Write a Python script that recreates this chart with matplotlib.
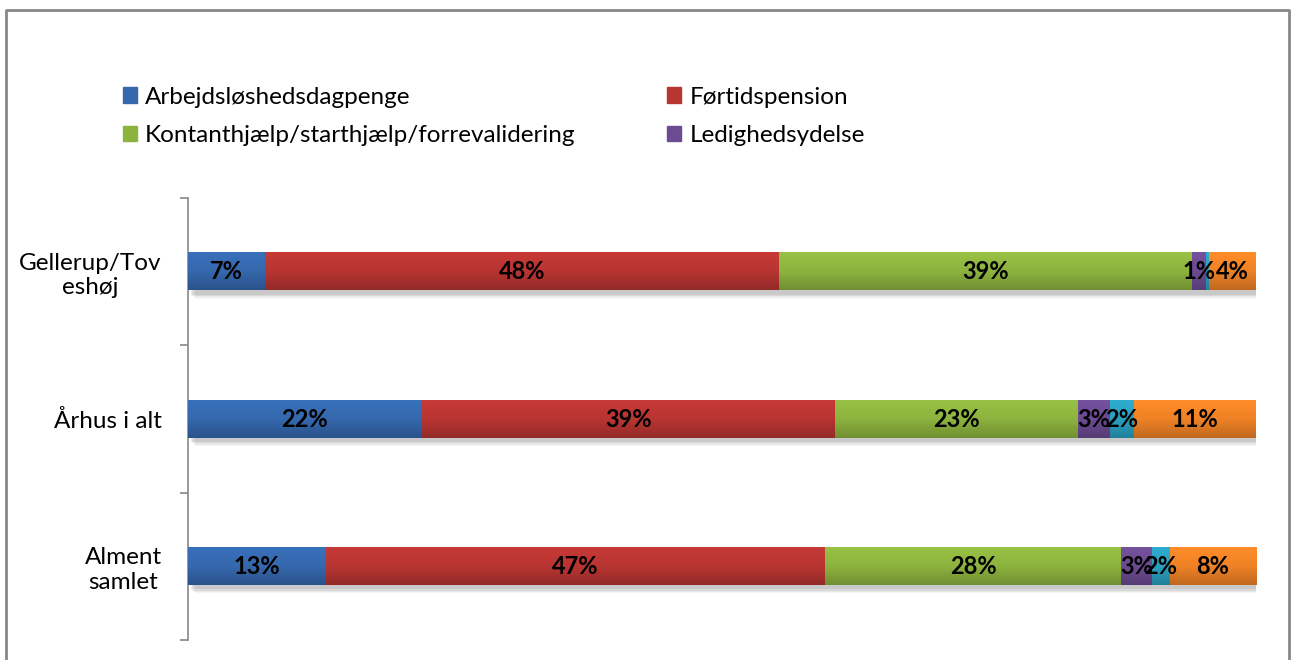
import numpy as np
import matplotlib.pyplot as plt
import matplotlib.patheffects as pe
from matplotlib.colors import LinearSegmentedColormap, to_rgb
from matplotlib.patches import Rectangle

plt.rcParams['font.family'] = ['Lato', 'DejaVu Sans']

# Fordeling af ydelser (procent af modtagere)
categories = ["Gellerup/Tov\neshøj", "Århus i alt", "Alment\nsamlet"]
series_names = [
    "Arbejdsløshedsdagpenge",
    "Førtidspension",
    "Kontanthjælp/starthjælp/forrevalidering",
    "Ledighedsydelse",
    "Sygedagpenge",
    "Andet",
]
arbejdsloshed = [7.2, 21.9, 12.9]
fortid = [48.1, 38.7, 46.7]
kontant = [38.7, 22.7, 27.8]
ledighed = [1.3, 3.0, 2.9]
syge = [0.3, 2.3, 1.6]
andet = [4.4, 11.4, 8.1]
values = [arbejdsloshed, fortid, kontant, ledighed, syge, andet]

colors = ["#3568ad", "#b83532", "#8db33f", "#6c4b92", "#2aa0c0", "#ef8226"]

fig = plt.figure(figsize=(12.91, 6.6), dpi=100)
ax = fig.add_axes([0.1456, 0.0303, 0.8273, 0.6697])

# soft drop shadow under the bars
shadow = [pe.SimplePatchShadow(offset=(o, -o - 1), alpha=a, shadow_rgbFace='#444444')
          for o, a in [(5, 0.05), (4, 0.07), (3, 0.09), (2, 0.10)]] + [pe.Normal()]

y = np.arange(len(categories))
bar_h = 0.255
left = np.zeros(len(categories))
for vals, col in zip(values, colors):
    bars = ax.barh(y, vals, left=left, height=bar_h, color=col, zorder=2)
    for b, v in zip(bars, vals):
        b.set_path_effects(shadow)
        # vertical gradient on top of each segment, lighter at the top
        base = np.array(to_rgb(col))
        cmap = LinearSegmentedColormap.from_list(
            "g", [np.clip(base * 1.08, 0, 1), base, base * 0.8])
        x0, y0, w, h = b.get_x(), b.get_y(), b.get_width(), b.get_height()
        grad = np.linspace(0, 1, 64).reshape(-1, 1)
        ax.imshow(grad, extent=[x0, x0 + w, y0 + h, y0], cmap=cmap,
                  aspect='auto', zorder=3, interpolation='bilinear')
        if v >= 0.5:
            ax.text(x0 + w / 2, y0 + h / 2, f"{v:.0f}%", ha='center', va='center',
                    fontsize=17, fontweight='bold', color='black', zorder=4)
    left += np.array(vals)

ax.set_xlim(0, 100)
ax.set_ylim(2.5, -0.5)
ax.set_yticks(y)
ax.set_yticklabels(categories, fontsize=17.5)
for lab in ax.get_yticklabels():
    lab.set_multialignment('center')
ax.set_yticks(np.arange(-0.5, len(categories), 1), minor=True)
ax.tick_params(axis='y', which='major', length=0, pad=19)
ax.tick_params(axis='y', which='minor', length=6, width=1.2, color='#888888')
ax.set_xticks([])
for s in ['top', 'right', 'bottom']:
    ax.spines[s].set_visible(False)
ax.spines['left'].set_color('#888888')
ax.spines['left'].set_linewidth(1.2)

# legend: first four series in two columns
handles = [Rectangle((0, 0), 1, 1, color=colors[i]) for i in [0, 2, 1, 3]]
labels = [series_names[i] for i in [0, 2, 1, 3]]
fig.legend(handles, labels, ncol=2, loc='upper left', bbox_to_anchor=(0.078, 0.902),
           frameon=False, fontsize=17.5, handlelength=0.58, handleheight=0.58,
           handletextpad=0.35, columnspacing=3.75, labelspacing=0.72)

# outer frame
fig.add_artist(plt.Line2D([0.005, 0.005, 0.9985, 0.9985], [0.0, 0.985, 0.985, 0.0],
                          transform=fig.transFigure, color='#888888', lw=2))

fig.savefig("out.png", dpi=100)
